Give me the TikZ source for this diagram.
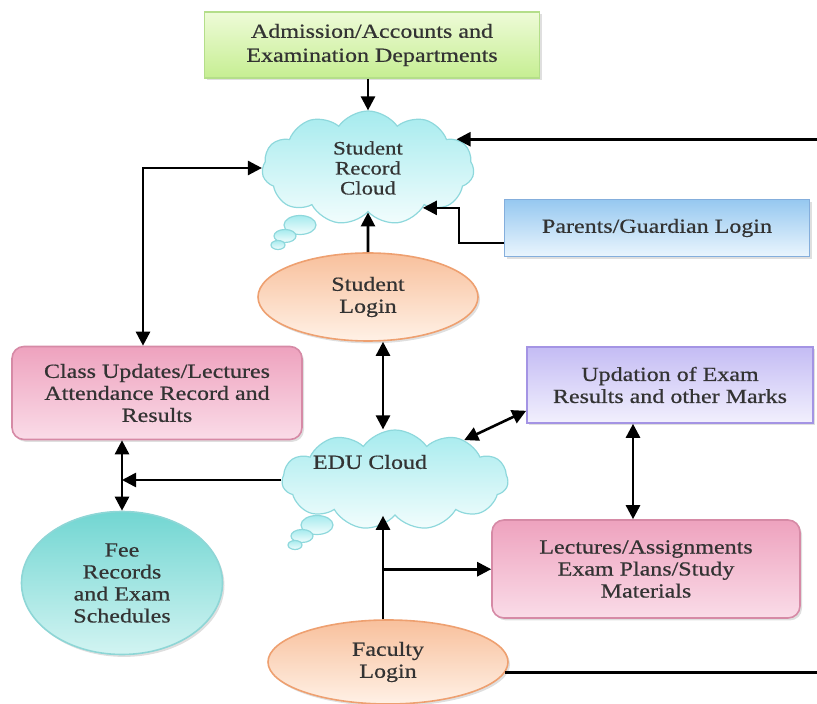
\documentclass[tikz,border=0pt]{standalone}
\usepackage{fontspec}
\setmainfont{Liberation Serif}[FakeStretch=1.2,FakeBold=0.6]
\usetikzlibrary{positioning,calc,shapes.symbols,shapes.geometric,arrows.meta,shadows}

\definecolor{admtop}{HTML}{EEFBD8}
\definecolor{admbot}{HTML}{C6EE92}
\definecolor{admline}{HTML}{B4DE8A}
\definecolor{cldtop}{HTML}{A6EBEE}
\definecolor{cldbot}{HTML}{F2FDFD}
\definecolor{cldline}{HTML}{8ED8DC}
\definecolor{partop}{HTML}{96C8F0}
\definecolor{parbot}{HTML}{EAF5FD}
\definecolor{parline}{HTML}{84AEDC}
\definecolor{logtop}{HTML}{F8C09C}
\definecolor{logbot}{HTML}{FFF1E6}
\definecolor{logline}{HTML}{EEA070}
\definecolor{pnktop}{HTML}{EEA2BE}
\definecolor{pnkbot}{HTML}{FADCE8}
\definecolor{pnkline}{HTML}{D68AA6}
\definecolor{purtop}{HTML}{C4BCF4}
\definecolor{purbot}{HTML}{F2F0FD}
\definecolor{purline}{HTML}{A494E4}
\definecolor{feetop}{HTML}{72D6D2}
\definecolor{feebot}{HTML}{D2F4F2}
\definecolor{feeline}{HTML}{8ED6D6}

\begin{document}
\begin{tikzpicture}[x=0.5pt,y=-0.5pt,
  txt/.style={font=\fontsize{10}{11}\selectfont, align=center, text=black!80},
  shadowed/.style={drop shadow={opacity=0.25,shadow xshift=1pt,shadow yshift=-1.2pt}},
  box/.style={txt, shadowed, draw=#1line, line width=0.8pt, top color=#1top, bottom color=#1bot, inner sep=0pt},
  roundbox/.style={box=#1, rounded corners=6pt},
  oval/.style={box=#1, ellipse},
  puff/.style={draw=cldline, line width=0.6pt, top color=cldtop, bottom color=cldbot},
  link/.style={line width=1.3pt, -{Triangle[length=7pt,width=7pt]}},
  twoway/.style={line width=1.3pt, {Triangle[length=7pt,width=7pt]}-{Triangle[length=7pt,width=7pt]}},
]
\useasboundingbox (0,0) rectangle (817,704);

\newcommand\thought[2]{
  \path[puff] (#1,#2) ellipse [x radius=8pt, y radius=4.75pt];
  \path[puff] (#1-15,#2+11) ellipse [x radius=5.5pt, y radius=3.25pt];
  \path[puff] (#1-22,#2+20) ellipse [x radius=3.5pt, y radius=2.25pt];
}

% clouds
\thought{300}{225}
\node[cloud, cloud puffs=11, cloud puff arc=110, puff, minimum width=106pt, minimum height=57pt, inner sep=0pt] (src) at (368,168) {};
\node[txt, font=\fontsize{9.5}{10}\selectfont] (srctxt) at (src) {Student\\Record\\Cloud};
\thought{317}{525}
\node[cloud, cloud puffs=11, cloud puff arc=110, puff, minimum width=113pt, minimum height=50pt, inner sep=0pt] (edu) at (395,480) {};
\node[txt] (edutxt) at (370,462) {EDU Cloud};

% boxes and ovals
\node[box=adm, minimum width=167.5pt, minimum height=33pt, font=\fontsize{10}{12}\selectfont] (adm) at (372,45) {Admission/Accounts and\\Examination Departments};
\node[box=par, minimum width=152.5pt, minimum height=28.5pt] (par) at (657,228) {Parents/Guardian Login};
\node[oval=log, minimum width=110pt, minimum height=44pt] (stud) at (368,297) {Student\\Login};
\node[roundbox=pnk, minimum width=145pt, minimum height=46.5pt] (class) at (157,393) {Class Updates/Lectures\\Attendance Record and\\Results};
\node[oval=fee, minimum width=100.5pt, minimum height=71.5pt] (fee) at (122,583) {Fee\\Records\\and Exam\\Schedules};
\node[box=pur, minimum width=143pt, minimum height=38pt] (upd) at (670,385) {Updation of Exam\\Results and other Marks};
\node[roundbox=pnk, minimum width=154pt, minimum height=49pt] (lec) at (646,569) {Lectures/Assignments\\Exam Plans/Study\\Materials};
\node[oval=log, minimum width=120pt, minimum height=42pt] (fac) at (388,662) {Faculty\\Login};

% connectors
\coordinate (rim) at (817,0);
\draw[link] (src.north |- adm.south) -- (src.north);
\draw[link] (src.18 -| rim) -- (src.18);
\draw[link] ($(par.west)+(0,15)$) -| ($(src.-36)+(36,0)$) -- (src.-36);
\draw[link] (stud) -- (src);
\draw[twoway] (src.west) -| ($(class.north)+(-14,0)$);
\draw[twoway] ([xshift=7.5pt]stud.south) -- ([xshift=7.5pt]stud.south |- edu.north);
\draw[link] (edu.west) -- (edu.west -| fee.north);
\draw[twoway] (fee.north |- class.south) -- (fee.north);
\draw[twoway] (edu.30) -- ($(upd.south west)+(0,-13)$);
\draw[twoway] ([xshift=-18.5pt]upd.south) -- ([xshift=-18.5pt]upd.south |- lec.north);
\draw[link] ([xshift=-2.5pt]fac.north) -- ([xshift=-2.5pt]fac.north |- edu.south);
\coordinate (fork) at ($(fac.north)+(-5,-50)$);
\draw[link] (fork) -- (fork -| lec.west);
\draw[line width=1.3pt] (fac.-5) -- (fac.-5 -| rim);

\end{tikzpicture}
\end{document}
